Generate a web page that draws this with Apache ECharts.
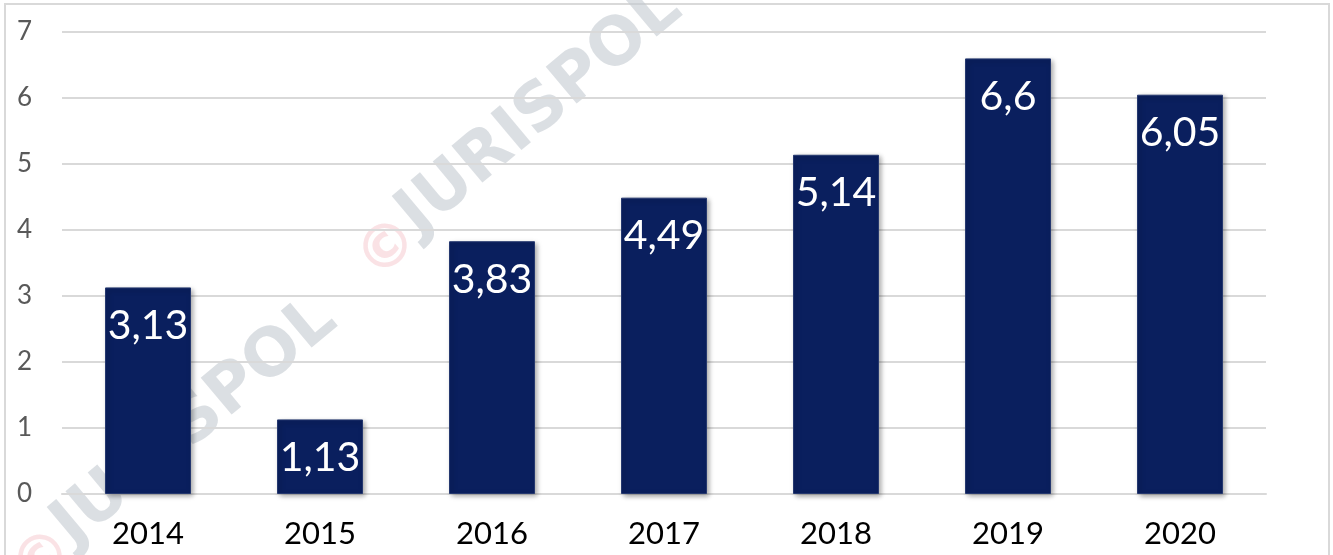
<!DOCTYPE html>
<html>
<head>
<meta charset="utf-8">
<script src="https://cdn.jsdelivr.net/npm/echarts@6/dist/echarts.min.js"></script>
<style>
  html, body { margin: 0; padding: 0; background: #fff; }
  #chart { width: 1333px; height: 555px; }
</style>
</head>
<body>
<div id="chart"></div>
<script>
// dane
const years = ["2014", "2015", "2016", "2017", "2018", "2019", "2020"];
const values = [3.13, 1.13, 3.83, 4.49, 5.14, 6.6, 6.05];

const chart = echarts.init(document.getElementById("chart"));
const rot = 40 * Math.PI / 180; // kat znaku wodnego

function watermark(cx, cy) {
  return [
    {
      type: "text",
      x: cx, y: cy, rotation: rot, z: 0, silent: true,
      style: {
        text: "JURISPOL",
        font: "bold 66px 'DejaVu Sans'",
        fill: "rgba(195,201,209,0.6)",
        textAlign: "center",
        textVerticalAlign: "middle"
      }
    },
    {
      type: "text",
      x: cx - 151, y: cy + 138, rotation: rot, z: 0, silent: true,
      style: {
        text: "©",
        font: "bold 60px 'DejaVu Sans'",
        fill: "rgba(240,160,170,0.3)",
        textAlign: "center",
        textVerticalAlign: "middle"
      }
    }
  ];
}

chart.setOption({
  animation: false,
  graphic: [
    {
      type: "rect", z: 0, silent: true,
      shape: { x: 5, y: 4, width: 1324, height: 560 },
      style: { fill: "none", stroke: "#d9d9d9", lineWidth: 2 }
    }
  ].concat(watermark(195, 423), watermark(540, 112)),
  grid: { left: 62, right: 67, top: 32, bottom: 61 },
  xAxis: {
    type: "category",
    data: years,
    axisLine: { show: true, lineStyle: { color: "#d9d9d9", width: 2 } },
    axisTick: { show: false },
    axisLabel: {
      color: "#000",
      fontSize: 31,
      fontFamily: "Lato",
      margin: 24
    }
  },
  yAxis: {
    type: "value",
    min: 0,
    max: 7,
    interval: 1,
    axisLine: { show: false },
    axisTick: { show: false },
    splitLine: { lineStyle: { color: "#d9d9d9", width: 2 } },
    axisLabel: {
      color: "#595959",
      fontSize: 26,
      fontFamily: "Lato",
      margin: 30
    }
  },
  series: [
    {
      type: "bar",
      data: values,
      barWidth: "50%",
      z: 2,
      itemStyle: {
        color: "#0a1f5e",
        borderColor: "#25386f",
        borderWidth: 1,
        shadowBlur: 5,
        shadowColor: "rgba(0,0,0,0.35)",
        shadowOffsetX: 2,
        shadowOffsetY: 2
      },
      label: {
        show: true,
        position: "insideTop",
        distance: 18,
        color: "#fff",
        fontSize: 41,
        fontFamily: "Lato",
        formatter: (p) => String(p.value).replace(".", ",")
      }
    }
  ]
});
</script>
</body>
</html>
